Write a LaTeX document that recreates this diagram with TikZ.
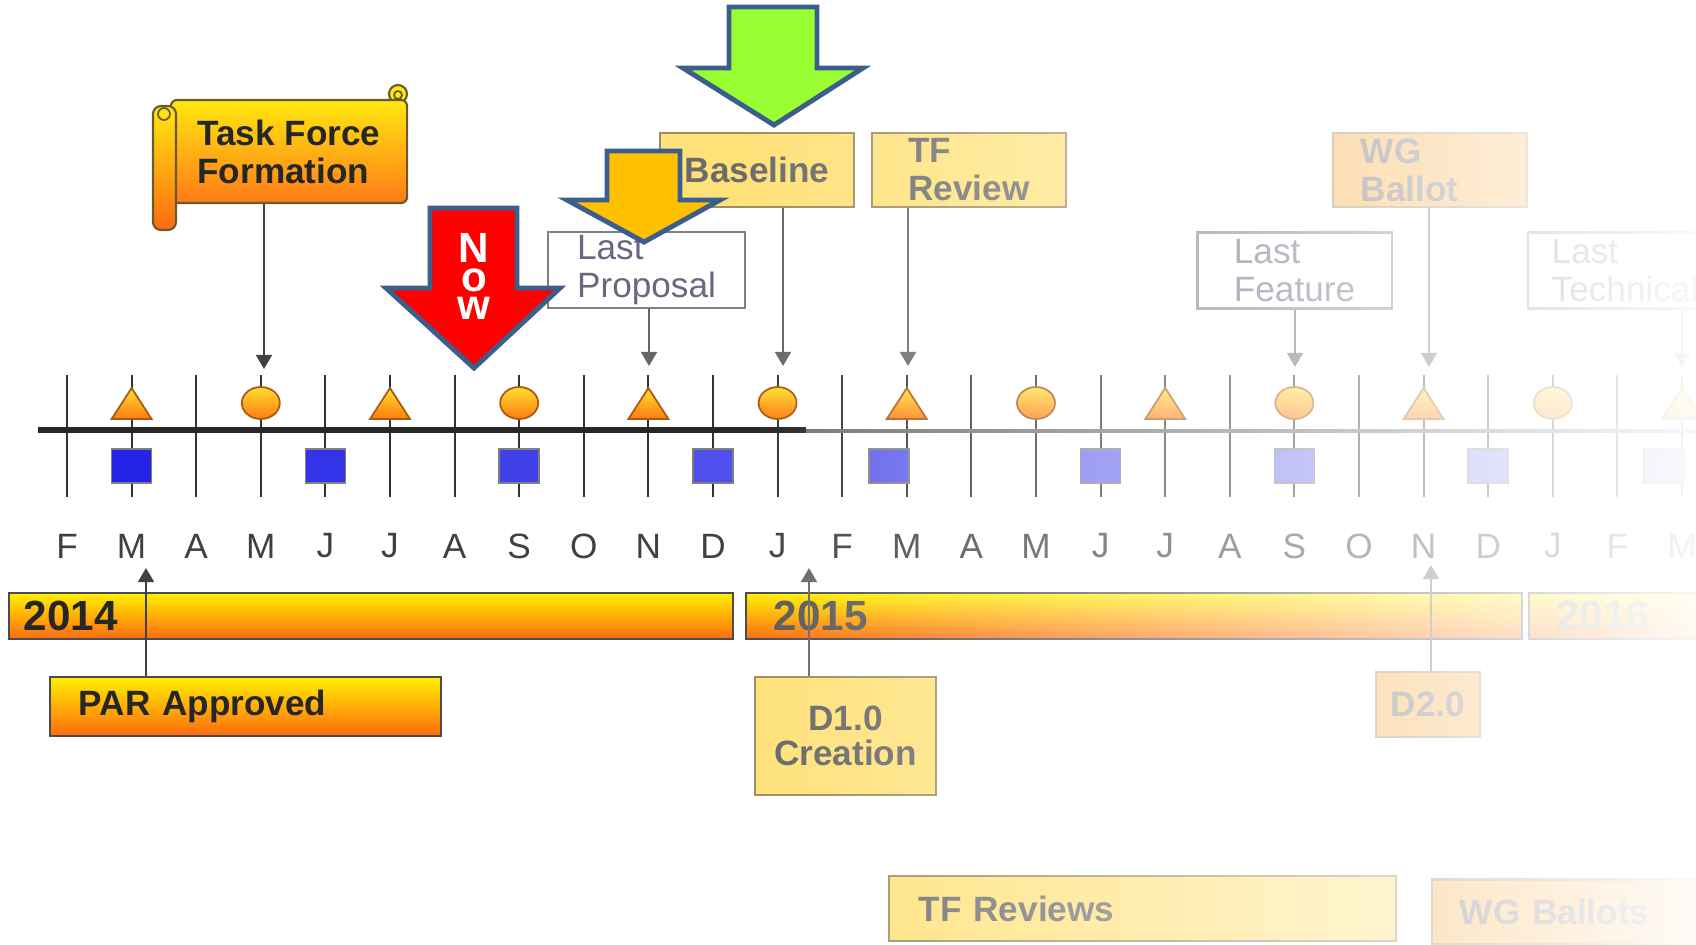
\documentclass[tikz,border=0pt]{standalone}
\usepackage{fontspec}
\setmainfont{Liberation Sans}
\usepackage{xcolor}
\usepackage{tikz}
\usetikzlibrary{arrows.meta,positioning,calc,fadings}

\definecolor{barTop}{HTML}{FFF000}
\definecolor{barBot}{HTML}{FF6A10}
\definecolor{scrTop}{HTML}{FFE810}
\definecolor{scrBot}{HTML}{FF7A18}
\definecolor{scrEdge}{HTML}{6B5A2A}
\definecolor{mkTop}{HTML}{FFE030}
\definecolor{mkBot}{HTML}{FF7A10}
\definecolor{mkEdge}{HTML}{A85A10}
\definecolor{paleBox}{HTML}{FFE27A}
\definecolor{paleEdge}{HTML}{9C8C62}
\definecolor{peachBox}{HTML}{FBB04A}
\definecolor{sqBlue}{HTML}{1414E6}
\definecolor{arrEdge}{HTML}{3B5E8C}
\definecolor{nowRed}{HTML}{FF0000}
\definecolor{goGreen}{HTML}{99FF33}
\definecolor{amber}{HTML}{FFC000}
\definecolor{txtGray}{HTML}{6B6B6B}
\definecolor{propGray}{HTML}{6E6680}

\tikzfading[name=faderight, left color=transparent!100, right color=transparent!4]

\begin{document}
\begin{tikzpicture}[x=0.01cm, y=-0.01cm,
  milestone/.style={rectangle, draw=paleEdge, line width=0.6pt, fill=paleBox,
    font=\bfseries\fontsize{10}{10.8}\selectfont, text=txtGray, align=left,
    inner ysep=0pt, minimum width=1.94cm, minimum height=0.74cm},
  gate/.style={milestone, fill=white, draw=black!50,
    font=\fontsize{10}{10.8}\selectfont, text=propGray, minimum height=0.76cm},
  hotbox/.style={rectangle, draw=black!70, line width=0.6pt, top color=barTop,
    bottom color=barBot, font=\bfseries\fontsize{10}{10.8}\selectfont,
    text=black!85, align=left, inner ysep=0pt},
  yearbar/.style={hotbox, font=\bfseries\fontsize{12}{12}\selectfont,
    minimum height=0.46cm},
  conn/.style={-{Triangle[length=4pt,width=4.5pt]}, line width=0.7pt, draw=black!60},
  bigarrow/.style={draw=arrEdge, line width=1.4pt, line join=miter},
  tick/.style={draw=black!80, line width=0.6pt},
  month/.style={font=\fontsize{10}{10}\selectfont, text=black!75},
  nowletter/.style={font=\bfseries\fontsize{12}{12}\selectfont, text=white,
    inner sep=0pt, anchor=base}
]
\useasboundingbox (0,0) rectangle (1696,944);
\clip (0,0) rectangle (1696,944);

% timeline
\foreach \i in {0,...,25}{
  \pgfmathsetmacro\mx{67+64.6*\i}
  \draw[tick] (\mx,375) -- (\mx,497);
}
\draw[black!85, line width=1.7pt] (38,430) -- (806,430);
\draw[black!55, line width=1.4pt] (806,431) -- (1696,431);
\foreach \i in {1,5,...,25}{
  \pgfmathsetmacro\mx{67+64.6*\i}
  \shadedraw[top color=mkTop, bottom color=mkBot, draw=mkEdge, line width=0.5pt]
    (\mx-20,419) -- (\mx+20,419) -- (\mx,388) -- cycle;
}
\foreach \i in {3,7,...,23}{
  \pgfmathsetmacro\mx{67+64.6*\i}
  \shadedraw[top color=mkTop, bottom color=mkBot, draw=mkEdge, line width=0.5pt]
    (\mx,403) ellipse[x radius=19, y radius=16];
}
\foreach \i in {1,4,...,25}{
  \pgfmathsetmacro\sx{67+64.6*\i-18*or(\i==13,\i==25)}
  \pgfmathtruncatemacro\sq{95-2*\i}
  \filldraw[fill=sqBlue!\sq!white, draw=black!50, line width=0.5pt]
    (\sx-20,449) rectangle (\sx+20,483);
}
\foreach \lab [count=\i from 0] in {F,M,A,M,J,J,A,S,O,N,D,J,F,M,A,M,J,J,A,S,O,N,D,J,F,M}{
  \node[month] (mo\i) at ({67+64.6*\i},546) {\lab};
}

% tips on the timeline
\coordinate (tTF) at (264,369);
\coordinate (tLP) at (649,366);
\coordinate (tBL) at (783,366);
\coordinate (tTR) at (908,366);
\coordinate (tLF) at (1295,367);
\coordinate (tWG) at (1429,367);
\coordinate (tLT) at (1682,367);
\coordinate (tPAR) at (146,568);
\coordinate (tD1) at (809,568);
\coordinate (tD2) at (1431,565);

% task force scroll
\filldraw[fill=scrTop, draw=scrEdge, line width=0.6pt] (398,94) circle[radius=9];
\node[hotbox, top color=scrTop, bottom color=scrBot, draw=scrEdge, rounded corners=0.06cm,
  minimum width=2.36cm, minimum height=1.03cm] (tff) at (289,151.5) {Task Force\\Formation};
\shadedraw[top color=scrTop, bottom color=barBot, draw=scrEdge, line width=0.6pt,
  rounded corners=0.08cm] (153,106) rectangle (176,230);
\draw[scrEdge, line width=0.5pt] (164,114) circle[radius=6];
\draw[scrEdge, line width=0.5pt] (398,95) circle[radius=4];

% upper boxes
\node[milestone] (base) at (757,170) {Baseline};
\node[milestone] (tfrev) at (969,170) {TF\\Review};
\node[milestone, fill=peachBox, text width=1.38cm, inner xsep=0.28cm] (wgbal) at (1430,170) {WG\\Ballot};
\node[gate, minimum width=1.97cm] (lastprop) at (646.5,270) {Last\\Proposal};
\node[gate] (lastfeat) at (1294.5,270.5) {Last\\Feature};
\node[gate] (lasttech) at (1625,270.5) {Last\\Technical};

\draw[conn, draw=black!75] (tff.south -| tTF) -- (tTF);
\draw[conn] (lastprop.south -| tLP) -- (tLP);
\draw[conn] (base.south -| tBL) -- (tBL);
\draw[conn] (tfrev.south -| tTR) -- (tTR);
\draw[conn] (lastfeat.south -| tLF) -- (tLF);
\draw[conn] (wgbal.south -| tWG) -- (tWG);
\draw[conn] (lasttech.south -| tLT) -- (tLT);

% years
\node[yearbar, minimum width=7.24cm, text width=6.94cm, inner xsep=0.15cm] (y14) at (371,616) {2014};
\node[yearbar, minimum width=7.76cm, text width=7.2cm, inner xsep=0.28cm, text=black!65] (y15) at (1134,616) {2015};
\node[yearbar, minimum width=3.2cm, text width=2.66cm, inner xsep=0.27cm, text=black!45] (y16) at (1689.5,616) {2016};

% lower boxes
\node[hotbox, minimum width=3.91cm, minimum height=0.59cm, text width=3.33cm, inner xsep=0.29cm] (par) at (245.5,706.5) {PAR Approved};
\node[milestone, align=center, minimum width=1.81cm, minimum height=1.18cm,
  font=\bfseries\fontsize{10}{10}\selectfont, text=black!60] (d1) at (845.5,736) {D1.0\\Creation};
\node[milestone, align=center, fill=peachBox, minimum width=1.04cm, minimum height=0.65cm] (d2) at (1428,704.5) {D2.0};
\node[milestone, minimum width=5.07cm, minimum height=0.65cm, text width=4.47cm, inner xsep=0.3cm] (tfrevs) at (1142.5,908.5) {TF Reviews};
\node[milestone, fill=peachBox, minimum width=2.88cm, minimum height=0.65cm, text width=2.32cm, inner xsep=0.28cm] (wgbals) at (1576,912) {WG Ballots};

\draw[conn, draw=black!75] (par.north -| tPAR) -- (tPAR);
\draw[conn] (d1.north -| tD1) -- (tD1);
\draw[conn] (d2.north -| tD2) -- (tD2);

% later items fade out to the right
\fill[white, path fading=faderight] (740,-5) rectangle (1700,950);

% pointers
\filldraw[bigarrow, fill=goGreen] (729,7) -- (817,7) -- (817,68) -- (863,68) -- (774,125) -- (683,68) -- (729,68) -- cycle;
\filldraw[bigarrow, fill=amber] (607,151) -- (680,151) -- (680,200) -- (720,200) -- (644,242) -- (567,200) -- (607,200) -- cycle;
\filldraw[bigarrow, fill=nowRed] (430,208) -- (517,208) -- (517,288) -- (560,288) -- (474,368) -- (386,288) -- (430,288) -- cycle;
\node[nowletter] (nowN) at (474,262) {N};
\node[nowletter] (nowO) at (474,291) {o};
\node[nowletter] (nowW) at (474,319) {w};
\end{tikzpicture}
\end{document}
